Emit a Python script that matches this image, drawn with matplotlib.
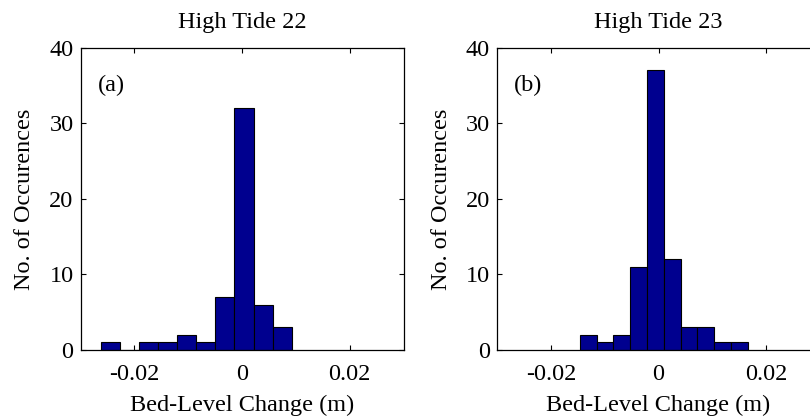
import numpy as np
import matplotlib
matplotlib.use("Agg")
import matplotlib.pyplot as plt

plt.rcParams['font.family'] = ['Liberation Serif', 'DejaVu Serif']

# Histogram bin edges (m) and counts for each high tide
edges_22 = [-0.02618, -0.02264, -0.01910, -0.01556, -0.01202, -0.00848,
            -0.00494, -0.00140, 0.00214, 0.00568, 0.00923]
counts_22 = [1, 0, 1, 1, 2, 1, 7, 32, 6, 3]

edges_23 = [-0.01461, -0.01149, -0.00837, -0.00525, -0.00213, 0.00099,
            0.00411, 0.00723, 0.01035, 0.01347, 0.01659]
counts_23 = [2, 1, 2, 11, 37, 12, 3, 3, 1, 1]

titles = ["High Tide 22", "High Tide 23"]
panel_tags = ["(a)", "(b)"]
xticks = [-0.02, 0, 0.02]
xticklabels = ["-0.02", "0", "0.02"]
yticks = [0, 10, 20, 30, 40]

FS = 17.5

fig = plt.figure(figsize=(8.10, 4.19), dpi=100)
ax_a = fig.add_axes([0.0994, 0.1647, 0.3988, 0.7215])
ax_b = fig.add_axes([0.6136, 0.1647, 0.3988, 0.7215])

for ax, edges, counts, title, tag in zip(
        (ax_a, ax_b), (edges_22, edges_23), (counts_22, counts_23),
        titles, panel_tags):
    e = np.asarray(edges)
    ax.bar(e[:-1], counts, width=np.diff(e), align='edge',
           color='#00008F', edgecolor='black', linewidth=0.8, zorder=2)
    ax.set_xlim(-0.03, 0.03)
    ax.set_ylim(0, 40)
    ax.set_xticks(xticks)
    ax.set_xticklabels(xticklabels)
    ax.set_yticks(yticks)
    ax.tick_params(direction='in', top=True, right=True, length=3.5,
                   width=0.8, labelsize=FS)
    ax.tick_params(axis='x', pad=10)
    ax.tick_params(axis='y', pad=5)
    for sp in ax.spines.values():
        sp.set_linewidth(0.9)
    ax.set_title(title, fontsize=FS, pad=14)
    ax.set_xlabel("Bed-Level Change (m)", fontsize=FS, labelpad=7)
    ax.set_ylabel("No. of Occurences", fontsize=FS, labelpad=10)
    ax.text(-0.0268, 35, tag, fontsize=FS, ha='left', va='center')

fig.savefig("out.png", dpi=100)
